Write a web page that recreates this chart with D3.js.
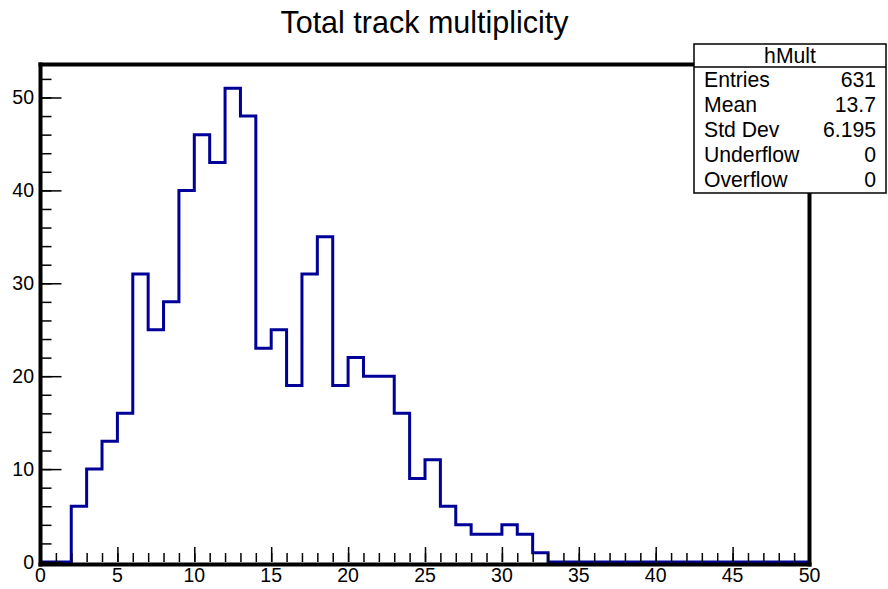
<!DOCTYPE html>
<html>
<head>
<meta charset="utf-8">
<script src="https://cdn.jsdelivr.net/npm/d3@7"></script>
<style>
  body { margin: 0; background: #fff; }
  svg { display: block; font-family: "Liberation Sans", Arial, Helvetica, sans-serif; }
</style>
</head>
<body>
<div id="wrapper"></div>
<script>
// histogram hMult, 50 bins of width 1 from 0 to 50
const binCounts = [
  0, 0, 6, 10, 13, 16, 31, 25, 28, 40,
  46, 43, 51, 48, 23, 25, 19, 31, 35, 19,
  22, 20, 20, 16, 9, 11, 6, 4, 3, 3,
  4, 3, 1, 0, 0, 0, 0, 0, 0, 0,
  0, 0, 0, 0, 0, 0, 0, 0, 0, 0,
]
const xDomain = [0, 50]
const yMax = 53.55
const xMajorTicks = [0, 5, 10, 15, 20, 25, 30, 35, 40, 45, 50]
const yMajorTicks = [0, 10, 20, 30, 40, 50]

const title = "Total track multiplicity"
const statsName = "hMult"
const statsLabels = ["Entries", "Mean", "Std Dev", "Underflow", "Overflow"]
const statsValues = ["631", "13.7", "6.195", "0", "0"]

function drawHist() {

  // 1. Dimensions
  const dimensions = {
    width: 888,
    height: 589,
    left: 40.5,
    right: 809.5,
    top: 64.5,
    bottom: 562,
  }

  // 2. Canvas
  const svg = d3.select("#wrapper")
    .append("svg")
      .attr("width", dimensions.width)
      .attr("height", dimensions.height)

  // 3. Scales
  const xScale = d3.scaleLinear()
    .domain(xDomain)
    .range([dimensions.left, dimensions.right])

  const yScale = d3.scaleLinear()
    .domain([0, yMax])
    .range([dimensions.bottom, dimensions.top])

  // 4. Histogram outline
  const points = binCounts.map((c, i) => [i, c])
  points.push([binCounts.length, binCounts[binCounts.length - 1]])

  const lineGenerator = d3.line()
    .x(d => xScale(d[0]))
    .y(d => yScale(d[1]))
    .curve(d3.curveStepAfter)

  svg.append("path")
      .datum(points)
      .attr("d", lineGenerator)
      .attr("fill", "none")
      .attr("stroke", "#000099")
      .attr("stroke-width", 3)

  // 5. Frame and axes
  svg.append("line")
      .attr("x1", dimensions.left - 2)
      .attr("x2", dimensions.right + 2)
      .attr("y1", dimensions.top)
      .attr("y2", dimensions.top)
      .attr("stroke", "black")
      .attr("stroke-width", 4)
  svg.append("line")
      .attr("x1", dimensions.right)
      .attr("x2", dimensions.right)
      .attr("y1", dimensions.top)
      .attr("y2", dimensions.bottom + 4.5)
      .attr("stroke", "black")
      .attr("stroke-width", 4)

  const xAxis = d3.axisTop(xScale)
    .tickValues(xMajorTicks)
    .tickSize(15)
    .tickFormat("")
  const xMinor = d3.axisTop(xScale)
    .tickValues(d3.range(0, 51))
    .tickSize(9)
    .tickFormat("")

  const xG = svg.append("g")
      .attr("transform", `translate(0, ${dimensions.bottom})`)
  xG.append("g").call(xMinor)
  xG.append("g").call(xAxis)
  xG.selectAll(".domain").remove()
  xG.selectAll(".tick line")
      .attr("stroke", "black")
      .attr("stroke-width", 1.5)

  const yAxis = d3.axisRight(yScale)
    .tickValues(yMajorTicks)
    .tickSize(21)
    .tickFormat("")
  const yMinor = d3.axisRight(yScale)
    .tickValues(d3.range(0, 53, 2))
    .tickSize(11)
    .tickFormat("")

  const yG = svg.append("g")
      .attr("transform", `translate(${dimensions.left}, 0)`)
  yG.append("g").call(yMinor)
  yG.append("g").call(yAxis)
  yG.selectAll(".domain").remove()
  yG.selectAll(".tick line")
      .attr("stroke", "black")
      .attr("stroke-width", 1.5)

  svg.append("line")
      .attr("x1", dimensions.left - 2)
      .attr("x2", dimensions.right + 2)
      .attr("y1", dimensions.bottom + 2.5)
      .attr("y2", dimensions.bottom + 2.5)
      .attr("stroke", "black")
      .attr("stroke-width", 4)
  svg.append("line")
      .attr("x1", dimensions.left)
      .attr("x2", dimensions.left)
      .attr("y1", dimensions.top - 2)
      .attr("y2", dimensions.bottom + 4.5)
      .attr("stroke", "black")
      .attr("stroke-width", 4)

  // tick labels
  svg.append("g")
    .selectAll("text")
    .data(xMajorTicks)
    .join("text")
      .attr("x", d => xScale(d))
      .attr("y", 582)
      .attr("text-anchor", "middle")
      .style("font-size", "19.5px")
      .text(d => d)

  svg.append("g")
    .selectAll("text")
    .data(yMajorTicks)
    .join("text")
      .attr("x", 34)
      .attr("y", d => yScale(d) + 7)
      .attr("text-anchor", "end")
      .style("font-size", "19.5px")
      .text(d => d)

  // 6. Title
  svg.append("text")
      .attr("x", 424.5)
      .attr("y", 33)
      .attr("text-anchor", "middle")
      .style("font-size", "30.5px")
      .text(title)

  // 7. Stats box
  const box = { x: 694, y: 44, w: 192, h: 149, header: 23 }
  const stats = svg.append("g")
  stats.append("rect")
      .attr("x", box.x)
      .attr("y", box.y)
      .attr("width", box.w)
      .attr("height", box.h)
      .attr("fill", "white")
      .attr("stroke", "black")
      .attr("stroke-width", 1.5)
  stats.append("line")
      .attr("x1", box.x)
      .attr("x2", box.x + box.w)
      .attr("y1", box.y + box.header)
      .attr("y2", box.y + box.header)
      .attr("stroke", "black")
      .attr("stroke-width", 1.5)
  stats.append("text")
      .attr("x", box.x + box.w / 2)
      .attr("y", 63.3)
      .attr("text-anchor", "middle")
      .style("font-size", "21.2px")
      .text(statsName)

  const rowY = d3.scaleLinear()
    .domain([0, statsLabels.length - 1])
    .range([87.3, 187])

  stats.selectAll(".label")
    .data(statsLabels)
    .join("text")
      .attr("class", "label")
      .attr("x", 704)
      .attr("y", (d, i) => rowY(i))
      .style("font-size", "21.2px")
      .text(d => d)

  stats.selectAll(".value")
    .data(statsValues)
    .join("text")
      .attr("class", "value")
      .attr("x", 876)
      .attr("y", (d, i) => rowY(i))
      .attr("text-anchor", "end")
      .style("font-size", "21.2px")
      .text(d => d)
}
drawHist()
</script>
</body>
</html>
